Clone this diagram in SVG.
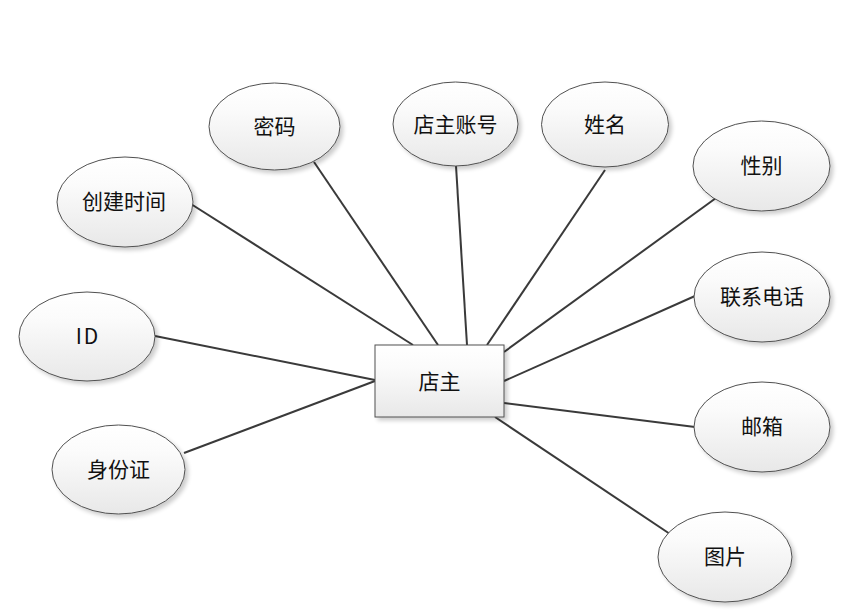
<svg xmlns="http://www.w3.org/2000/svg" width="862" height="614" viewBox="0 0 862 614">
<defs>
<linearGradient id="g" x1="0" y1="0" x2="0" y2="1">
<stop offset="0" stop-color="#ffffff"/>
<stop offset="0.3" stop-color="#fbfbfb"/>
<stop offset="1" stop-color="#e8e8e8"/>
</linearGradient>
<filter id="sh" x="-20%" y="-20%" width="140%" height="140%">
<feGaussianBlur in="SourceAlpha" stdDeviation="2"/>
<feOffset dx="3" dy="3" result="b"/>
<feComponentTransfer><feFuncA type="linear" slope="0.2"/></feComponentTransfer>
<feMerge><feMergeNode/><feMergeNode in="SourceGraphic"/></feMerge>
</filter>
</defs>
<style>
.n{fill:url(#g);stroke:#505050;stroke-width:1;filter:url(#sh)}
.t{font-family:"Noto Sans CJK SC","Noto Sans",sans-serif;font-size:21px;fill:#111;text-anchor:middle;dominant-baseline:central}
.c line{stroke:#3a3a3a;stroke-width:2}
</style>
<rect width="862" height="614" fill="#fff"/>
<g class="c" id="connectors">
<line x1="191" y1="204" x2="413" y2="345"/>
<line x1="314" y1="162" x2="438" y2="345"/>
<line x1="456" y1="166" x2="467" y2="345"/>
<line x1="605" y1="170" x2="487" y2="345"/>
<line x1="716" y1="198" x2="504" y2="352"/>
<line x1="695" y1="296" x2="504" y2="381"/>
<line x1="695" y1="427" x2="504" y2="403"/>
<line x1="670" y1="534" x2="495" y2="417"/>
<line x1="155" y1="336" x2="375" y2="380"/>
<line x1="184" y1="453" x2="375" y2="381"/>
</g>
<g id="dianzhu"><rect class="n" x="375" y="345" width="129" height="72"/><text class="t" x="439.5" y="380">店主</text></g>
<g id="chuangjianshijian"><ellipse class="n" cx="125" cy="202" rx="68" ry="45"/><text class="t" x="124" y="200">创建时间</text></g>
<g id="mima"><ellipse class="n" cx="274.5" cy="126.5" rx="65.5" ry="43.5"/><text class="t" x="274.5" y="125">密码</text></g>
<g id="dianzhuzhanghao"><ellipse class="n" cx="455.5" cy="124" rx="62.5" ry="42"/><text class="t" x="455.5" y="123">店主账号</text></g>
<g id="xingming"><ellipse class="n" cx="605" cy="124.5" rx="63.5" ry="42.5"/><text class="t" x="605" y="123">姓名</text></g>
<g id="xingbie"><ellipse class="n" cx="761.5" cy="166" rx="68.5" ry="45"/><text class="t" x="761.5" y="164">性别</text></g>
<g id="lianxidianhua"><ellipse class="n" cx="762" cy="297" rx="68" ry="45"/><text class="t" x="762" y="295">联系电话</text></g>
<g id="youxiang"><ellipse class="n" cx="762" cy="427" rx="68" ry="45"/><text class="t" x="762" y="425">邮箱</text></g>
<g id="tupian"><ellipse class="n" cx="725" cy="557" rx="67" ry="45"/><text class="t" x="725" y="555">图片</text></g>
<g id="id"><ellipse class="n" cx="87" cy="336.5" rx="68" ry="44.5"/><text class="t" x="88" y="335" letter-spacing="2">ID</text></g>
<g id="shenfenzheng"><ellipse class="n" cx="118.5" cy="469.5" rx="66.5" ry="44.5"/><text class="t" x="118.5" y="468">身份证</text></g>
</svg>
